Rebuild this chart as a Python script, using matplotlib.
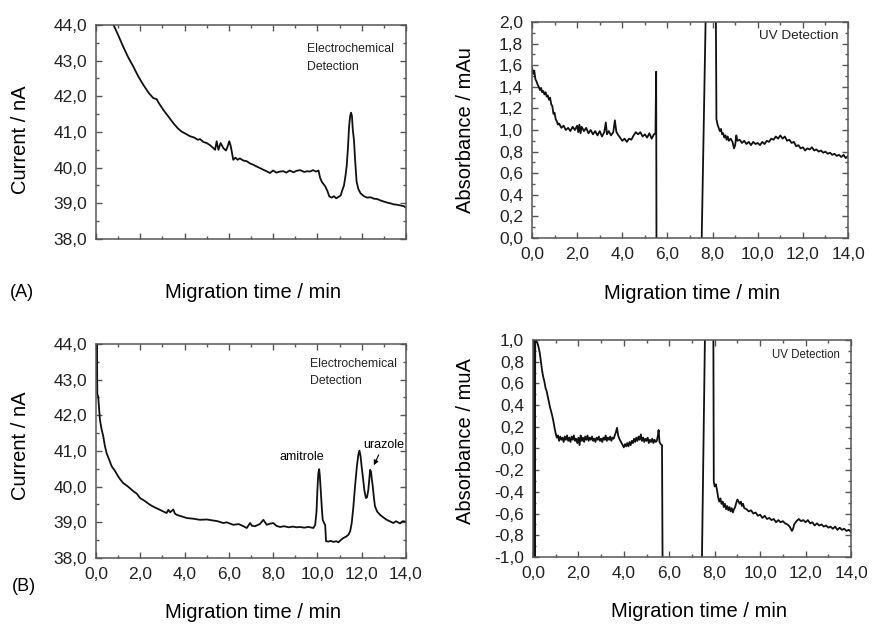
import matplotlib.pyplot as plt
from matplotlib.ticker import MultipleLocator, FuncFormatter

plt.rcParams['font.family'] = ['Liberation Sans', 'DejaVu Sans']

# (A) electrochemical trace
ec_a_t = [0.60, 0.78, 1.00, 1.23, 1.45, 1.69, 1.90, 2.14, 2.40, 2.59, 2.74, 2.85, 3.04, 3.25,
          3.49, 3.70, 3.87, 4.05, 4.25, 4.45, 4.60, 4.70, 4.85, 5.00, 5.15, 5.30, 5.38, 5.45,
          5.53, 5.63, 5.75, 5.87, 5.95, 6.02, 6.08, 6.13, 6.20, 6.30, 6.40, 6.50, 6.65, 6.81,
          6.95, 7.11, 7.30, 7.56, 7.70, 7.86, 8.00, 8.15, 8.30, 8.46, 8.60, 8.75, 8.92, 9.05,
          9.22, 9.40, 9.55, 9.67, 9.80, 9.95, 10.05, 10.12, 10.20, 10.35, 10.45, 10.54, 10.65,
          10.75, 10.85, 10.95, 11.05, 11.12, 11.20, 11.27, 11.32, 11.38, 11.43, 11.48, 11.52,
          11.56, 11.60, 11.65, 11.71, 11.77, 11.85, 11.95, 12.10, 12.25, 12.40, 12.55, 12.70,
          12.85, 13.00, 13.15, 13.30, 13.45, 13.60, 13.75, 13.90, 14.00]
ec_a_i = [44.60, 44.02, 43.72, 43.39, 43.10, 42.83, 42.57, 42.32, 42.08, 41.95, 41.92, 41.80,
          41.62, 41.45, 41.25, 41.10, 41.01, 40.95, 40.88, 40.84, 40.78, 40.80, 40.72, 40.69,
          40.63, 40.55, 40.50, 40.74, 40.50, 40.69, 40.55, 40.48, 40.60, 40.74, 40.62, 40.46,
          40.22, 40.28, 40.22, 40.26, 40.20, 40.18, 40.12, 40.08, 40.02, 39.94, 39.90, 39.85,
          39.92, 39.86, 39.89, 39.90, 39.86, 39.92, 39.87, 39.91, 39.93, 39.88, 39.90, 39.89,
          39.93, 39.89, 39.92, 39.72, 39.60, 39.48, 39.35, 39.19, 39.16, 39.20, 39.14, 39.18,
          39.22, 39.36, 39.50, 39.78, 40.03, 40.55, 41.15, 41.45, 41.54, 41.45, 41.05, 40.78,
          40.15, 39.61, 39.40, 39.28, 39.20, 39.16, 39.17, 39.13, 39.12, 39.08, 39.05, 39.02,
          39.00, 38.97, 38.96, 38.94, 38.92, 38.88]

# (A) UV trace
uv_a_t = [0.00, 0.05, 0.10, 0.15, 0.20, 0.25, 0.30, 0.35, 0.40, 0.45, 0.50, 0.55, 0.60, 0.65,
          0.70, 0.75, 0.80, 0.85, 0.90, 0.95, 1.00, 1.05, 1.10, 1.15, 1.20, 1.30, 1.40, 1.50,
          1.60, 1.70, 1.80, 1.90, 2.00, 2.05, 2.10, 2.15, 2.20, 2.30, 2.40, 2.50, 2.60, 2.70,
          2.80, 2.90, 3.00, 3.10, 3.20, 3.27, 3.32, 3.40, 3.50, 3.60, 3.67, 3.74, 3.80, 3.90,
          4.00, 4.10, 4.20, 4.30, 4.40, 4.50, 4.60, 4.70, 4.80, 4.90, 5.00, 5.10, 5.20, 5.30,
          5.40, 5.47, 5.50, 5.52, 7.45, 7.80, 8.12, 8.17, 8.22, 8.27, 8.32, 8.37, 8.42, 8.47,
          8.52, 8.57, 8.62, 8.67, 8.72, 8.80, 8.88, 8.95, 9.00, 9.05, 9.10, 9.20, 9.30, 9.40,
          9.50, 9.60, 9.70, 9.80, 9.90, 10.00, 10.10, 10.20, 10.30, 10.40, 10.50, 10.60, 10.70,
          10.80, 10.90, 11.00, 11.10, 11.20, 11.30, 11.40, 11.50, 11.60, 11.70, 11.80, 11.90,
          12.00, 12.10, 12.20, 12.30, 12.40, 12.50, 12.60, 12.70, 12.80, 12.90, 13.00, 13.10,
          13.20, 13.30, 13.40, 13.50, 13.60, 13.70, 13.80, 13.90, 14.00]
uv_a_abs = [1.58, 1.52, 1.55, 1.47, 1.45, 1.42, 1.40, 1.37, 1.39, 1.35, 1.36, 1.33, 1.35, 1.31,
            1.32, 1.28, 1.30, 1.24, 1.22, 1.15, 1.16, 1.10, 1.08, 1.05, 1.06, 1.02, 1.04, 1.00,
            1.02, 0.99, 1.03, 1.00, 1.04, 0.98, 1.05, 0.97, 1.03, 0.99, 1.02, 0.97, 1.00, 0.96,
            0.99, 0.95, 0.99, 0.94, 0.98, 1.07, 0.96, 0.99, 0.95, 0.98, 1.09, 0.98, 0.96, 0.93,
            0.90, 0.92, 0.89, 0.92, 0.91, 0.95, 0.98, 0.96, 0.98, 0.94, 0.96, 0.93, 0.97, 0.92,
            0.96, 0.97, 1.54, -0.80, -0.80, 3.30, 3.00, 1.10, 1.05, 1.02, 0.99, 1.01, 0.96, 0.97,
            0.93, 0.95, 0.91, 0.94, 0.90, 0.92, 0.89, 0.83, 0.86, 0.95, 0.90, 0.91, 0.88, 0.90,
            0.87, 0.89, 0.86, 0.89, 0.87, 0.88, 0.86, 0.89, 0.87, 0.90, 0.89, 0.92, 0.91,
            0.94, 0.92, 0.95, 0.92, 0.94, 0.90, 0.91, 0.88, 0.89, 0.85, 0.86, 0.83,
            0.84, 0.81, 0.83, 0.82, 0.84, 0.81, 0.82, 0.80, 0.81, 0.79, 0.80, 0.78,
            0.79, 0.77, 0.78, 0.76, 0.77, 0.75, 0.77, 0.74, 0.76]

# (B) electrochemical trace
ec_b_t = [0.00, 0.02, 0.04, 0.06, 0.10, 0.18, 0.25, 0.33, 0.40, 0.48, 0.60, 0.71, 0.85, 1.00,
          1.10, 1.23, 1.45, 1.69, 1.85, 1.99, 2.20, 2.44, 2.65, 2.89, 3.05, 3.19, 3.27, 3.35,
          3.42, 3.49, 3.56, 3.64, 3.85, 4.10, 4.40, 4.70, 5.00, 5.30, 5.50, 5.75, 5.90, 6.20,
          6.45, 6.66, 6.81, 6.96, 7.05, 7.18, 7.40, 7.56, 7.71, 7.85, 8.01, 8.15, 8.31, 8.50,
          8.70, 8.90, 9.05, 9.22, 9.40, 9.60, 9.82, 9.90, 9.96, 10.00, 10.04, 10.08, 10.11,
          10.15, 10.20, 10.24, 10.30, 10.35, 10.39, 10.50, 10.60, 10.72, 10.85, 10.95, 11.05,
          11.17, 11.30, 11.40, 11.48, 11.55, 11.62, 11.70, 11.78, 11.85, 11.90, 11.95, 12.00,
          12.05, 12.12, 12.19, 12.24, 12.30, 12.35, 12.38, 12.42, 12.46, 12.50, 12.55, 12.60,
          12.70, 12.83, 12.95, 13.13, 13.30, 13.43, 13.55, 13.73, 13.85, 14.00]
ec_b_i = [44.50, 43.00, 44.30, 42.60, 42.53, 41.87, 41.62, 41.41, 41.15, 40.94, 40.75, 40.57,
          40.45, 40.29, 40.20, 40.10, 40.00, 39.87, 39.80, 39.68, 39.60, 39.49, 39.42, 39.35,
          39.30, 39.26, 39.35, 39.28, 39.32, 39.36, 39.25, 39.21, 39.17, 39.12, 39.10, 39.07,
          39.08, 39.05, 39.03, 38.98, 39.00, 38.93, 38.95, 38.89, 38.84, 38.98, 38.90, 38.89,
          38.95, 39.07, 38.93, 38.96, 38.98, 38.90, 38.87, 38.89, 38.86, 38.88, 38.86, 38.87,
          38.85, 38.87, 38.84, 38.93, 39.30, 39.91, 40.35, 40.49, 40.30, 39.91, 39.40, 39.07,
          38.98, 38.93, 38.47, 38.46, 38.48, 38.45, 38.47, 38.44, 38.50, 38.56, 38.60, 38.65,
          38.75, 38.98, 39.40, 40.01, 40.55, 40.90, 41.01, 40.85, 40.55, 40.29, 39.90, 39.68,
          39.70, 39.91, 40.25, 40.47, 40.42, 40.20, 40.01, 39.70, 39.45, 39.30, 39.21, 39.15,
          39.07, 39.02, 38.98, 39.03, 38.97, 39.03, 39.02]

# (B) UV trace
uv_b_t = [0.00, 0.02, 0.04, 0.06, 0.08, 0.10, 0.15, 0.20, 0.25, 0.30, 0.35, 0.40, 0.45, 0.50,
          0.55, 0.60, 0.65, 0.70, 0.75, 0.80, 0.85, 0.90, 0.95, 1.00, 1.05, 1.10, 1.15, 1.20,
          1.25, 1.30, 1.35, 1.40, 1.45, 1.50, 1.55, 1.60, 1.65, 1.70, 1.75, 1.80, 1.85, 1.90,
          1.95, 2.00, 2.05, 2.10, 2.15, 2.20, 2.25, 2.30, 2.35, 2.40, 2.45, 2.50, 2.55, 2.60,
          2.65, 2.70, 2.75, 2.80, 2.85, 2.90, 2.95, 3.00, 3.05, 3.10, 3.15, 3.20, 3.25, 3.30,
          3.35, 3.40, 3.45, 3.50, 3.55, 3.60, 3.65, 3.70, 3.75, 3.80, 3.85, 3.90, 3.95, 4.00,
          4.05, 4.10, 4.15, 4.20, 4.25, 4.30, 4.35, 4.40, 4.45, 4.50, 4.55, 4.60, 4.65, 4.70,
          4.75, 4.80, 4.85, 4.90, 4.95, 5.00, 5.05, 5.10, 5.15, 5.20, 5.25, 5.30, 5.35, 5.40,
          5.45, 5.50, 5.53, 5.57, 5.62, 5.68, 5.71, 7.42, 7.62, 7.93, 7.96, 8.00, 8.05, 8.10,
          8.15, 8.20, 8.25, 8.30, 8.35, 8.40, 8.45, 8.50, 8.55, 8.60, 8.65, 8.70, 8.75, 8.80,
          8.85, 8.90, 8.95, 9.00, 9.05, 9.10, 9.15, 9.20, 9.25, 9.30, 9.40, 9.50, 9.60, 9.70,
          9.80, 9.90, 10.00, 10.10, 10.20, 10.30, 10.40, 10.50, 10.60, 10.70, 10.80, 10.90,
          11.00, 11.10, 11.20, 11.30, 11.40, 11.45, 11.50, 11.60, 11.70, 11.80, 11.90, 12.00,
          12.10, 12.20, 12.30, 12.40, 12.50, 12.60, 12.70, 12.80, 12.90, 13.00, 13.10, 13.20,
          13.30, 13.40, 13.50, 13.60, 13.70, 13.80, 13.90, 14.00]
uv_b_abs = [-1.20, 1.20, -1.20, 1.20, -1.20, 1.10, 0.99, 0.97, 0.93, 0.88, 0.80, 0.72, 0.66,
            0.62, 0.56, 0.53, 0.48, 0.43, 0.38, 0.34, 0.30, 0.25, 0.19, 0.14, 0.10, 0.12, 0.07,
            0.11, 0.08, 0.10, 0.06, 0.11, 0.08, 0.12, 0.07, 0.10, 0.06, 0.11, 0.08, 0.12, 0.07,
            0.09, 0.05, 0.10, 0.03, 0.12, 0.07, 0.10, 0.06, 0.11, 0.08, 0.12, 0.07, 0.10, 0.08,
            0.11, 0.07, 0.09, 0.06, 0.10, 0.08, 0.11, 0.07, 0.09, 0.06, 0.10, 0.08, 0.12, 0.07,
            0.10, 0.08, 0.11, 0.07, 0.10, 0.09, 0.12, 0.15, 0.19, 0.12, 0.09, 0.07, 0.05, 0.03,
            0.01, 0.04, 0.02, 0.05, 0.02, 0.06, 0.03, 0.07, 0.05, 0.09, 0.06, 0.10, 0.07, 0.11,
            0.08, 0.13, 0.07, 0.10, 0.06, 0.09, 0.07, 0.10, 0.05, 0.08, 0.06, 0.09, 0.05, 0.08,
            0.06, 0.07, 0.12, 0.17, 0.06, 0.04, 0.03, -1.30, -1.30, 1.80, 1.80, -0.31, -0.35,
            -0.33, -0.38, -0.45, -0.49, -0.46, -0.51, -0.49, -0.54, -0.51, -0.56, -0.53, -0.57,
            -0.54, -0.58, -0.55, -0.59, -0.56, -0.54, -0.50, -0.47, -0.49, -0.51, -0.49, -0.53,
            -0.51, -0.55, -0.56, -0.58, -0.57, -0.60, -0.59, -0.62, -0.61, -0.64, -0.62, -0.65,
            -0.64, -0.66, -0.65, -0.68, -0.66, -0.68, -0.67, -0.69, -0.70, -0.72, -0.76, -0.74,
            -0.70, -0.67, -0.65, -0.67, -0.66, -0.68, -0.66, -0.69, -0.68, -0.71, -0.69, -0.71,
            -0.70, -0.72, -0.71, -0.73, -0.72, -0.74, -0.72, -0.75, -0.73, -0.75, -0.74, -0.76,
            -0.75, -0.77]

FRAME = '#555555'
TRACE = '#111111'
comma = FuncFormatter(lambda v, p: f"{round(v, 1) + 0.0:.1f}".replace('.', ','))


def style(ax, xlim, ylim, ymaj, ymin):
    ax.set_xlim(*xlim)
    ax.set_ylim(*ylim)
    ax.xaxis.set_major_locator(MultipleLocator(2))
    ax.xaxis.set_minor_locator(MultipleLocator(1))
    ax.yaxis.set_major_locator(MultipleLocator(ymaj))
    ax.yaxis.set_minor_locator(MultipleLocator(ymin))
    ax.xaxis.set_major_formatter(comma)
    ax.yaxis.set_major_formatter(comma)
    ax.tick_params(which='both', direction='in', top=True, right=True,
                   color=FRAME, width=1.0, labelsize=12.5, labelcolor='#222222')
    ax.tick_params(which='major', length=4, pad=6.5)
    ax.tick_params(which='minor', length=2)
    for s in ax.spines.values():
        s.set_color(FRAME)
        s.set_linewidth(1.1)


fig = plt.figure(figsize=(8.74, 6.24), dpi=100)
ax1 = fig.add_axes([0.1098, 0.617, 0.3547, 0.343])
ax2 = fig.add_axes([0.6087, 0.6186, 0.3616, 0.3461])
ax3 = fig.add_axes([0.1098, 0.1058, 0.3547, 0.343])
ax4 = fig.add_axes([0.6098, 0.1074, 0.3639, 0.3478])

# (A) EC
ax1.plot(ec_a_t, ec_a_i, color=TRACE, lw=1.3)
style(ax1, (0, 14), (38, 44), 1, 0.5)
ax1.tick_params(labelbottom=False)
ax1.set_ylabel('Current / nA', fontsize=14.5, va='center')
ax1.yaxis.set_label_coords(-0.245, 0.463)
ax1.set_xlabel('Migration time / min', fontsize=14.5, va='center')
ax1.xaxis.set_label_coords(0.508, -0.252)
ax1.text(0.68, 0.915, 'Electrochemical\nDetection', transform=ax1.transAxes,
         fontsize=8.8, ha='left', va='top', linespacing=1.6, color='#222222')
fig.text(0.0114, 0.5305, '(A)', fontsize=13, va='center', ha='left')

# (A) UV
ax2.plot(uv_a_t, uv_a_abs, color=TRACE, lw=1.3)
style(ax2, (0, 14), (0, 2), 0.2, 0.1)
ax2.set_ylabel('Absorbance / mAu', fontsize=14.5, va='center')
ax2.yaxis.set_label_coords(-0.21, 0.5)
ax2.set_xlabel('Migration time / min', fontsize=14.5, va='center')
ax2.xaxis.set_label_coords(0.505, -0.255)
ax2.text(0.97, 0.935, 'UV Detection', transform=ax2.transAxes,
         fontsize=9.7, ha='right', va='center', color='#222222')

# (B) EC
ax3.plot(ec_b_t, ec_b_i, color=TRACE, lw=1.3)
style(ax3, (0, 14), (38, 44), 1, 0.5)
ax3.set_ylabel('Current / nA', fontsize=14.5, va='center')
ax3.yaxis.set_label_coords(-0.245, 0.525)
ax3.set_xlabel('Migration time / min', fontsize=14.5, va='center')
ax3.xaxis.set_label_coords(0.507, -0.257)
ax3.text(0.69, 0.935, 'Electrochemical\nDetection', transform=ax3.transAxes,
         fontsize=8.8, ha='left', va='top', linespacing=1.6, color='#222222')
ax3.text(9.29, 40.84, 'amitrole', fontsize=9, ha='center', va='center')
ax3.annotate('urazole', xy=(12.55, 40.6), xytext=(12.98, 41.17), fontsize=9,
             ha='center', va='center',
             arrowprops=dict(arrowstyle='-|>', lw=0.8, color='black', mutation_scale=7,
                             shrinkA=1, shrinkB=0))
fig.text(0.0137, 0.0595, '(B)', fontsize=13, va='center', ha='left')

# (B) UV
ax4.plot(uv_b_t, uv_b_abs, color=TRACE, lw=1.3)
style(ax4, (0, 14), (-1, 1), 0.2, 0.1)
ax4.set_ylabel('Absorbance / muA', fontsize=14.5, va='center')
ax4.yaxis.set_label_coords(-0.212, 0.536)
ax4.set_xlabel('Migration time / min', fontsize=14.5, va='center')
ax4.xaxis.set_label_coords(0.522, -0.252)
ax4.text(0.965, 0.93, 'UV Detection', transform=ax4.transAxes,
         fontsize=8.3, ha='right', va='center', color='#222222')

fig.savefig('out.png', dpi=100)
